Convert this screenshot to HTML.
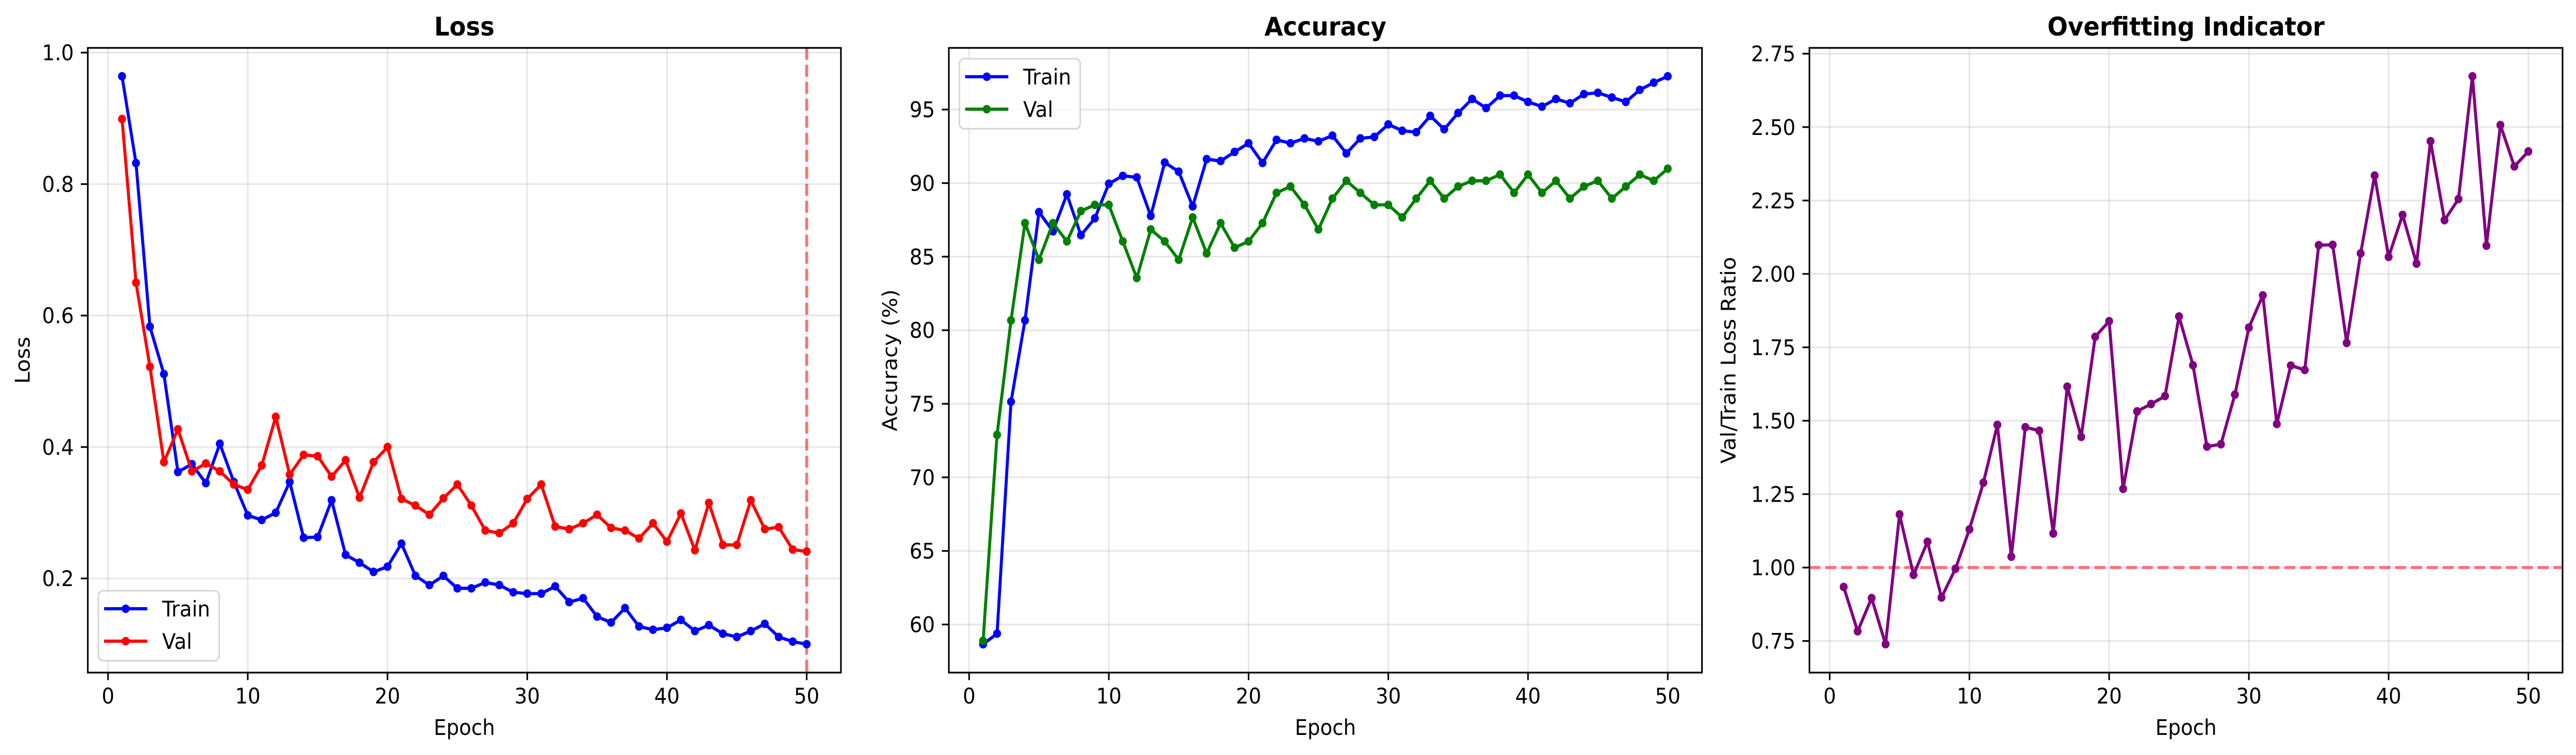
<!DOCTYPE html>
<html><head><meta charset="utf-8"><style>
html,body{margin:0;padding:0;background:#fff;width:100vw;height:100vh;overflow:hidden;}
svg{display:block;width:100vw;height:100vh;}
svg text{font-family:"DejaVu Sans","Liberation Sans",sans-serif;}
</style></head>
<body>
<svg id="fig" viewBox="0 0 5370 1466" preserveAspectRatio="none" xmlns="http://www.w3.org/2000/svg">
<rect width="5370" height="1466" fill="#fff"/>
</svg>
<script>
const epochs = Array.from({length:50},(_,i)=>i+1);
const trainLoss = [0.964,0.832,0.583,0.511,0.362,0.374,0.345,0.405,0.347,0.296,0.289,0.300,0.347,0.262,0.263,0.319,0.236,0.224,0.210,0.218,0.253,0.204,0.190,0.204,0.185,0.185,0.194,0.190,0.179,0.177,0.177,0.188,0.164,0.170,0.142,0.133,0.155,0.127,0.122,0.125,0.137,0.120,0.129,0.116,0.111,0.120,0.131,0.111,0.104,0.100];
const valLoss = [0.899,0.650,0.522,0.377,0.427,0.363,0.375,0.363,0.343,0.335,0.372,0.446,0.358,0.388,0.386,0.355,0.380,0.323,0.377,0.400,0.321,0.311,0.297,0.322,0.343,0.311,0.273,0.269,0.284,0.321,0.343,0.279,0.275,0.284,0.297,0.277,0.273,0.261,0.284,0.256,0.299,0.243,0.315,0.251,0.251,0.319,0.275,0.278,0.244,0.241];
const trainAcc = [58.66,59.38,75.14,80.67,88.03,86.72,89.24,86.46,87.61,89.96,90.49,90.39,87.77,91.40,90.78,88.42,91.63,91.50,92.12,92.71,91.37,92.94,92.71,93.04,92.84,93.23,92.02,93.04,93.14,93.99,93.56,93.46,94.57,93.66,94.77,95.72,95.10,95.95,95.95,95.52,95.20,95.72,95.43,96.05,96.14,95.82,95.52,96.34,96.83,97.26];
const valAcc = [58.89,72.89,80.67,87.28,84.79,87.28,86.04,88.10,88.52,88.52,86.04,83.55,86.85,86.04,84.79,87.67,85.22,87.28,85.61,86.04,87.28,89.34,89.77,88.52,86.85,88.95,90.16,89.34,88.52,88.52,87.67,88.95,90.16,88.95,89.77,90.16,90.16,90.58,89.34,90.58,89.34,90.16,88.95,89.77,90.16,88.95,89.77,90.58,90.16,90.98];
const ratio = [0.934,0.783,0.896,0.739,1.181,0.975,1.088,0.898,0.996,1.130,1.289,1.486,1.037,1.478,1.466,1.116,1.616,1.445,1.786,1.839,1.268,1.532,1.557,1.584,1.855,1.689,1.412,1.420,1.589,1.817,1.927,1.489,1.688,1.673,2.098,2.099,1.765,2.070,2.335,2.058,2.201,2.035,2.452,2.183,2.255,2.673,2.096,2.507,2.366,2.417];
const xTicks = [0,10,20,30,40,50];
const lossTicks = [0.2,0.4,0.6,0.8,1.0];
const accTicks = [60,65,70,75,80,85,90,95];
const ratioTicks = [0.75,1.00,1.25,1.50,1.75,2.00,2.25,2.50,2.75];

const NS='http://www.w3.org/2000/svg';
const svg=document.getElementById('fig');
function el(tag,attrs,parent,text){
  const e=document.createElementNS(NS,tag);
  for(const k in attrs) e.setAttribute(k,attrs[k]);
  if(text!==undefined) e.textContent=text;
  (parent||svg).appendChild(e);
  return e;
}
function pad(arrs){let mn=Infinity,mx=-Infinity;arrs.forEach(a=>a.forEach(v=>{mn=Math.min(mn,v);mx=Math.max(mx,v);}));const p=(mx-mn)*0.05;return [mn-p,mx+p];}
const TOP=93,BOT=1306;
function panel(cfg){
  const g=el('g',{});
  
  
  const L=cfg.left,R=cfg.left+1570;
  const xlo=-1.45,xhi=52.45;
  const [ylo,yhi]=cfg.ylim;
  const X=v=>L+(v-xlo)/(xhi-xlo)*(R-L);
  const Y=v=>BOT-(v-ylo)/(yhi-ylo)*(BOT-TOP);
  xTicks.forEach(t=>{const l=el('line',{x1:X(t),x2:X(t),y1:TOP,y2:BOT,stroke:'#b0b0b0','stroke-opacity':0.3,'stroke-width':3.3},g);
    });
  cfg.yticks.forEach(t=>{const l=el('line',{x1:L,x2:R,y1:Y(t),y2:Y(t),stroke:'#b0b0b0','stroke-opacity':0.3,'stroke-width':3.3},g);
    });
  if(cfg.vline!==undefined){const l=el('line',{x1:X(cfg.vline),x2:X(cfg.vline),y1:TOP,y2:BOT,stroke:'red','stroke-opacity':0.5,'stroke-width':6.25,'stroke-dasharray':'23 10'},g);
    }
  if(cfg.hline!==undefined){const l=el('line',{x1:L,x2:R,y1:Y(cfg.hline),y2:Y(cfg.hline),stroke:'red','stroke-opacity':0.5,'stroke-width':6.25,'stroke-dasharray':'23 10'},g);
    }
  cfg.series.forEach(s=>{
    const sg=el('g',{},g);
    
    
    const pts=s.data.map((v,i)=>X(epochs[i]).toFixed(1)+','+Y(v).toFixed(1)).join(' ');
    const pl=el('polyline',{points:pts,fill:'none',stroke:s.color,'stroke-width':6.25,'stroke-linejoin':'round','stroke-linecap':'square'},sg);
    
    
    s.data.forEach((v,i)=>{const c=el('circle',{cx:X(epochs[i]),cy:Y(v),r:8.3,fill:s.color},sg);
      
      });
  });
  const sp=el('rect',{x:L,y:TOP,width:R-L,height:BOT-TOP,fill:'none',stroke:'#000','stroke-width':3.3},g);
  
  xTicks.forEach(t=>{el('line',{x1:X(t),x2:X(t),y1:BOT,y2:BOT+14.6,stroke:'#000','stroke-width':3.3},g);
    const tx=el('text',{x:X(t),y:BOT+60,'font-size':41.7,'text-anchor':'middle'},g,String(t));
    });
  cfg.yticks.forEach(t=>{el('line',{x1:L-14.6,x2:L,y1:Y(t),y2:Y(t),stroke:'#000','stroke-width':3.3},g);
    const tx=el('text',{x:L-29,y:Y(t)+15,'font-size':41.7,'text-anchor':'end'},g,cfg.fmt(t));
    });
  const t=el('text',{x:(L+R)/2,y:69,'font-size':50,'font-weight':'bold','text-anchor':'middle'},g,cfg.title);
  
  const xl=el('text',{x:(L+R)/2,y:1427,'font-size':41.7,'text-anchor':'middle'},g,'Epoch');
  
  const yl=el('text',{x:cfg.ylx,y:(TOP+BOT)/2,'font-size':41.7,'text-anchor':'middle',transform:`rotate(-90 ${cfg.ylx} ${(TOP+BOT)/2})`},g,cfg.ylabel);
  
  if(cfg.legend){
    const lg=el('g',{},g);
    
    const bx=L+22, by=cfg.legend==='top'?114:1147;
    el('rect',{x:bx,y:by,width:252,height:136,rx:10,fill:'#fff','fill-opacity':0.8,stroke:'#cccccc','stroke-opacity':0.8,'stroke-width':3.3},lg);
    cfg.series.forEach((s,i)=>{
      const ry=by+35+i*63;
      const e=el('g',{},lg);
      
      
      el('line',{x1:bx+12,x2:bx+102,y1:ry,y2:ry,stroke:s.color,'stroke-width':6.25},e);
      el('circle',{cx:bx+57,cy:ry,r:8.3,fill:s.color},e);
      el('text',{x:bx+133,y:ry+15,'font-size':41.7},e,s.label);
    });
  }
}
panel({name:'loss-panel',left:183,title:'Loss',ylabel:'Loss',ylx:62,ylim:pad([trainLoss,valLoss]),yticks:lossTicks,fmt:v=>v.toFixed(1),vline:50,legend:'bottom',
  series:[{name:'train-loss',label:'Train',color:'#0000ff',data:trainLoss},{name:'val-loss',label:'Val',color:'#ff0000',data:valLoss}]});
panel({name:'accuracy-panel',left:1978,title:'Accuracy',ylabel:'Accuracy (%)',ylx:1870,ylim:pad([trainAcc,valAcc]),yticks:accTicks,fmt:v=>String(v),legend:'top',
  series:[{name:'train-accuracy',label:'Train',color:'#0000ff',data:trainAcc},{name:'val-accuracy',label:'Val',color:'#008000',data:valAcc}]});
panel({name:'overfitting-panel',left:3772,title:'Overfitting Indicator',ylabel:'Val/Train Loss Ratio',ylx:3618,ylim:pad([ratio]),yticks:ratioTicks,fmt:v=>v.toFixed(2),hline:1.0,
  series:[{name:'loss-ratio',label:'Ratio',color:'#800080',data:ratio}]});
</script>
</body></html>
